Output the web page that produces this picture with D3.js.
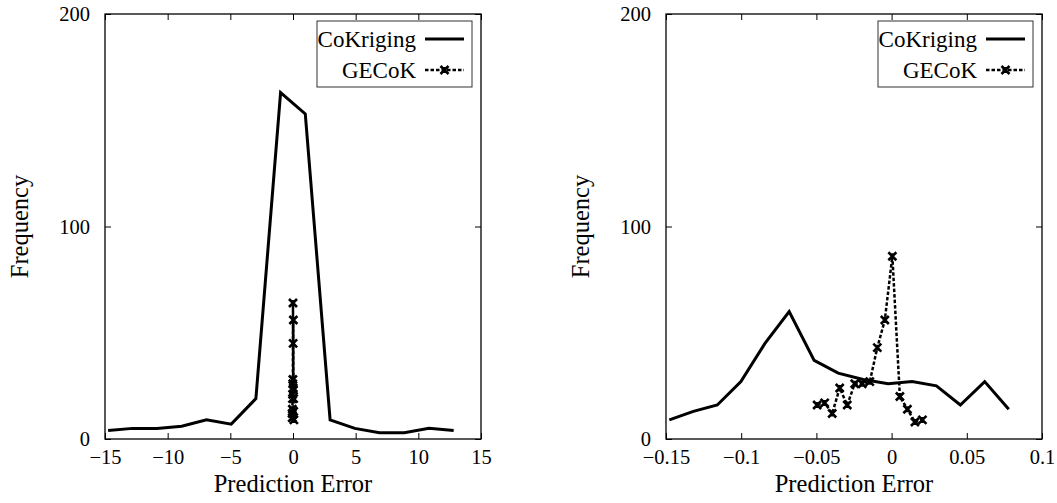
<!DOCTYPE html>
<html>
<head>
<meta charset="utf-8">
<script src="https://cdn.jsdelivr.net/npm/d3@7"></script>
</head>
<body style="margin:0; background:#fff">
<svg width="1057" height="503"></svg>
<script>
// Data
const legendLabels = ["CoKriging", "GECoK"];
const yTicks = [0, 100, 200];

// left panel: errors in raw units
const leftXTicks = [-15, -10, -5, 0, 5, 10, 15];
const leftCoKrigingX = [-14.75, -12.8, -10.85, -8.88, -6.9, -4.93, -2.96, -0.99, 0.98, 2.96, 4.93, 6.9, 8.88, 10.85, 12.82];
const leftCoKrigingY = [4, 5, 5, 6, 9, 7, 19, 163, 153, 9, 5, 3, 3, 5, 4];
const leftGECoKX = [-0.07, -0.06, -0.05, -0.04, -0.03, -0.02, -0.01, 0, 0.01, 0.02, 0.03, 0.04, 0.05, 0.06, 0.07];
const leftGECoKY = [12, 10, 14, 19, 21, 26, 28, 64, 45, 24, 56, 23, 19, 13, 9];

// right panel: normalised errors
const rightXTicks = [-0.15, -0.1, -0.05, 0, 0.05, 0.1];
const rightCoKrigingX = [-0.1478, -0.1318, -0.1159, -0.1002, -0.0842, -0.0681, -0.0515, -0.0355, -0.0189, -0.0023, 0.0136, 0.0298, 0.0457, 0.0619, 0.0779];
const rightCoKrigingY = [9, 13, 16, 27, 45, 60, 37, 31, 28, 26, 27, 25, 16, 27, 14];
const rightGECoKX = [-0.0495, -0.0445, -0.0395, -0.0345, -0.0295, -0.0245, -0.0195, -0.0145, -0.0095, -0.0045, 0.0005, 0.0055, 0.0105, 0.0155, 0.0205];
const rightGECoKY = [16, 17, 12, 24, 16, 26, 26, 27, 43, 56, 86, 20, 14, 8, 9];

const FONT = "Liberation Serif";
const svg = d3.select("svg").attr("font-family", FONT);
const plotTop = 14, plotBottom = 439;

const fmt = d => (d === 0 ? "0" : String(+d.toFixed(2))).replace("-", "\u2212");

// draw a small bold cross marker
function cross(g, x, y) {
  const s = 4;
  g.append("path")
    .attr("d", `M${x - s},${y - s}L${x + s},${y + s}M${x - s},${y + s}L${x + s},${y - s}M${x},${y - s + 1}L${x},${y + s - 1}`)
    .attr("stroke", "#000").attr("stroke-width", 2.6).attr("fill", "none");
}

function drawPanel(opt) {
  const x = d3.scaleLinear().domain(opt.xDomain).range([opt.left, opt.right]);
  const y = d3.scaleLinear().domain([0, 200]).range([plotBottom, plotTop]);
  const g = svg.append("g");

  // axes, ticks pointing inward on all four sides
  g.append("g").attr("transform", `translate(0,${plotBottom})`)
    .call(d3.axisBottom(x).tickValues(opt.xTicks).tickFormat(fmt).tickSizeInner(-6).tickSizeOuter(0).tickPadding(10));
  g.append("g").attr("transform", `translate(0,${plotTop})`)
    .call(d3.axisTop(x).tickValues(opt.xTicks).tickFormat("").tickSizeInner(-6).tickSizeOuter(0));
  g.append("g").attr("transform", `translate(${opt.left},0)`)
    .call(d3.axisLeft(y).tickValues(yTicks).tickSizeInner(-6).tickSizeOuter(0).tickPadding(15));
  g.append("g").attr("transform", `translate(${opt.right},0)`)
    .call(d3.axisRight(y).tickValues(yTicks).tickFormat("").tickSizeInner(-6).tickSizeOuter(0));
  g.selectAll(".domain").remove();
  g.selectAll("g").attr("font-family", FONT).attr("font-size", 20);
  g.selectAll(".tick line").attr("stroke", "#000").attr("stroke-width", 1);
  g.selectAll(".tick text").attr("font-family", FONT).attr("font-size", 20.5).attr("fill", "#000");

  g.append("rect")
    .attr("x", opt.left).attr("y", plotTop)
    .attr("width", opt.right - opt.left).attr("height", plotBottom - plotTop)
    .attr("fill", "none").attr("stroke", "#000").attr("stroke-width", 1.3);

  // axis labels
  g.append("text")
    .attr("text-anchor", "middle")
    .attr("x", (opt.left + opt.right) / 2).attr("y", 492)
    .attr("font-family", FONT).attr("font-size", 24.5)
    .text("Prediction Error");
  g.append("text")
    .attr("text-anchor", "middle")
    .attr("transform", `translate(${opt.left - 77},${(plotTop + plotBottom) / 2}) rotate(-90)`)
    .attr("font-family", FONT).attr("font-size", 24.5)
    .text("Frequency");

  const line = d3.line().x(d => x(d[0])).y(d => y(d[1]));

  // CoKriging solid line
  g.append("path")
    .datum(d3.zip(opt.coX, opt.coY))
    .attr("d", line)
    .attr("fill", "none").attr("stroke", "#000").attr("stroke-width", 3)
    .attr("stroke-linejoin", "miter");

  // GECoK dashed line with cross markers
  const ge = d3.zip(opt.geX, opt.geY);
  g.append("path")
    .datum(ge)
    .attr("d", line)
    .attr("fill", "none").attr("stroke", "#000").attr("stroke-width", 2.5)
    .attr("stroke-dasharray", "3.5,2");
  ge.forEach(d => cross(g, x(d[0]), y(d[1])));

  // legend
  const lg = g.append("g");
  lg.append("rect")
    .attr("x", opt.right - 164).attr("y", 21)
    .attr("width", 155).attr("height", 66)
    .attr("fill", "#fff").attr("stroke", "#333").attr("stroke-width", 1);
  legendLabels.forEach((name, i) => {
    const ly = 39 + i * 31;
    lg.append("text")
      .attr("text-anchor", "end")
      .attr("x", opt.right - 65).attr("y", ly + 8)
      .attr("font-family", FONT).attr("font-size", 23)
      .text(name);
    const x0 = opt.right - 56, x1 = opt.right - 17;
    lg.append("line")
      .attr("x1", x0).attr("x2", x1).attr("y1", ly).attr("y2", ly)
      .attr("stroke", "#000")
      .attr("stroke-width", i === 0 ? 3 : 2.5)
      .attr("stroke-dasharray", i === 0 ? null : "3.5,2");
    if (i === 1) cross(lg, (x0 + x1) / 2, ly);
  });
}

drawPanel({
  left: 105, right: 481, xDomain: [-15, 15], xTicks: leftXTicks,
  coX: leftCoKrigingX, coY: leftCoKrigingY, geX: leftGECoKX, geY: leftGECoKY
});
drawPanel({
  left: 666, right: 1042, xDomain: [-0.15, 0.1], xTicks: rightXTicks,
  coX: rightCoKrigingX, coY: rightCoKrigingY, geX: rightGECoKX, geY: rightGECoKY
});
</script>
</body>
</html>
